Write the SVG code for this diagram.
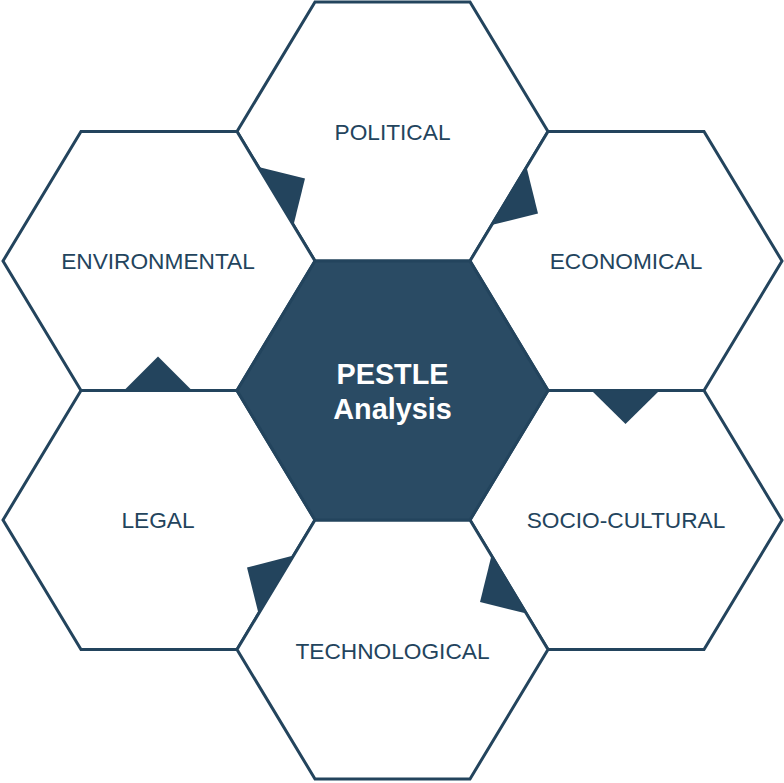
<svg xmlns="http://www.w3.org/2000/svg" width="784" height="783" viewBox="0 0 784 783">
  <style>
    .hex { fill: #ffffff; stroke: #23445d; stroke-width: 3; stroke-linejoin: miter; }
    .core { fill: #2a4b64; stroke: #23445d; stroke-width: 3; }
    .tab { fill: #23445d; stroke: none; }
    .lbl { font-family: "Liberation Sans", Arial, sans-serif; font-size: 22.7px; fill: #23445d; text-anchor: middle; }
    .title { font-family: "Liberation Sans", Arial, sans-serif; font-size: 28.8px; font-weight: bold; fill: #ffffff; text-anchor: middle; }
  </style>
  <rect width="784" height="783" fill="#ffffff"/>
  <g id="political">
    <polygon class="hex" points="237,131.5 315,2 470,2 548,131.5 470,261 315,261"/>
    <text class="lbl" x="392.5" y="139.5">POLITICAL</text>
  </g>
  <g id="environmental">
    <polygon class="hex" points="3,261 81,131.5 237,131.5 315,261 237,390.5 81,390.5"/>
    <text class="lbl" x="158" y="268.5">ENVIRONMENTAL</text>
  </g>
  <g id="economical">
    <polygon class="hex" points="470,261 548,131.5 704,131.5 782,261 704,390.5 548,390.5"/>
    <text class="lbl" x="626" y="268.5">ECONOMICAL</text>
  </g>
  <g id="legal">
    <polygon class="hex" points="3,520 81,390.5 237,390.5 315,520 237,649.5 81,649.5"/>
    <text class="lbl" x="158" y="528">LEGAL</text>
  </g>
  <g id="socio-cultural">
    <polygon class="hex" points="470,520 548,390.5 704,390.5 782,520 704,649.5 548,649.5"/>
    <text class="lbl" x="626" y="528">SOCIO-CULTURAL</text>
  </g>
  <g id="technological">
    <polygon class="hex" points="237,649.5 315,520 470,520 548,649.5 470,779 315,779"/>
    <text class="lbl" x="392.5" y="659">TECHNOLOGICAL</text>
  </g>
  <g id="pestle">
    <polygon class="core" points="237,390.5 315,261 470,261 548,390.5 470,520 315,520"/>
    <text class="title" x="392.5" y="383.5">PESTLE</text>
    <text class="title" x="392.5" y="419">Analysis</text>
  </g>
  <g id="connectors">
    <polygon class="tab" points="258.5,167 293.5,225 305,178.5"/>
    <polygon class="tab" points="526.5,167 491.5,225 538,213.5"/>
    <polygon class="tab" points="591.5,390.5 659.5,390.5 625.5,424"/>
    <polygon class="tab" points="293.5,555.5 258.5,613.5 247,567.5"/>
    <polygon class="tab" points="491.5,555.5 526.5,613.5 480,602"/>
    <polygon class="tab" points="124,390.5 192,390.5 158,356.5"/>
  </g>
</svg>
